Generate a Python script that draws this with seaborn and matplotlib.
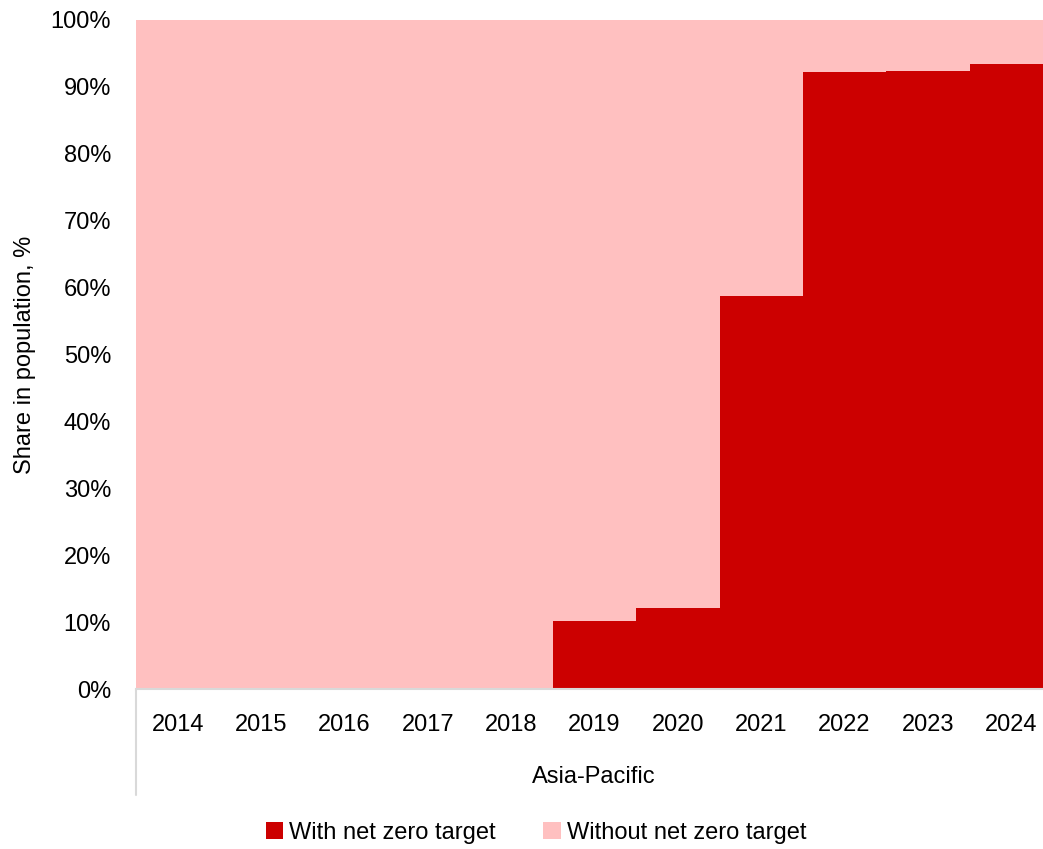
import matplotlib
matplotlib.use("Agg")
import matplotlib.pyplot as plt
import seaborn as sns
import pandas as pd
from matplotlib.lines import Line2D
from matplotlib.patches import Patch
from matplotlib.ticker import FuncFormatter

years = ["2014", "2015", "2016", "2017", "2018", "2019", "2020", "2021", "2022", "2023", "2024"]
with_target = [0.0, 0.2, 0.2, 0.2, 0.2, 10.2, 12.1, 58.7, 92.2, 92.4, 93.4]
total = [100.0] * len(years)
region = "Asia-Pacific"

red = "#CC0000"
pink = "#FFC0C0"
axis_grey = "#D9D9D9"

sns.set_theme(style="white")
plt.rcParams["font.family"] = ["Liberation Sans", "DejaVu Sans"]
plt.rcParams["text.color"] = "black"
plt.rcParams["axes.labelcolor"] = "black"

df = pd.DataFrame({"year": years, "with": with_target, "total": total})

fs = 17
fig = plt.figure(figsize=(10.43, 8.49), dpi=100)
ax = fig.add_axes([136 / 1043, 1 - 689 / 849, 917 / 1043, 669 / 849])

sns.barplot(data=df, x="year", y="total", color=pink, width=1.0,
            saturation=1, linewidth=0, ax=ax)
sns.barplot(data=df, x="year", y="with", color=red, width=1.0,
            saturation=1, linewidth=0, ax=ax)

ax.set_xlim(-0.5, len(years) - 0.5)
ax.set_ylim(0, 100)
ax.set_yticks(range(0, 101, 10))
ax.yaxis.set_major_formatter(FuncFormatter(lambda v, p: f"{int(v)}%"))
ax.tick_params(axis="both", length=0, labelsize=fs, colors="black")
ax.tick_params(axis="x", pad=18)
ax.tick_params(axis="y", pad=18)

for s in ["top", "right", "left"]:
    ax.spines[s].set_visible(False)
ax.spines["bottom"].set_color(axis_grey)
ax.spines["bottom"].set_linewidth(1.5)

# category group bracket on the left of the x axis
ax.add_line(Line2D([0, 0], [0, -(795 - 689) / 669], transform=ax.transAxes,
                   color=axis_grey, linewidth=1.5, clip_on=False))

ax.set_xlabel(region, fontsize=fs)
ax.set_ylabel("Share in population, %", fontsize=fs)
ax.xaxis.set_label_coords((594 - 136) / 917, -(777 - 689) / 669, transform=ax.transAxes)
ax.xaxis.label.set_verticalalignment("center")
ax.yaxis.set_label_coords(-(136 - 36) / 917, 0.5)

handles = [Patch(facecolor=red, edgecolor="none", label="With net zero target"),
           Patch(facecolor=pink, edgecolor="none", label="Without net zero target")]
fig.legend(handles=handles, loc="center", bbox_to_anchor=(536 / 1043, 1 - 833 / 849),
           ncol=2, frameon=False, fontsize=fs, handlelength=0.75, handleheight=0.75,
           handletextpad=0.25, columnspacing=2.0, borderaxespad=0)

fig.savefig("out.png", dpi=100)
